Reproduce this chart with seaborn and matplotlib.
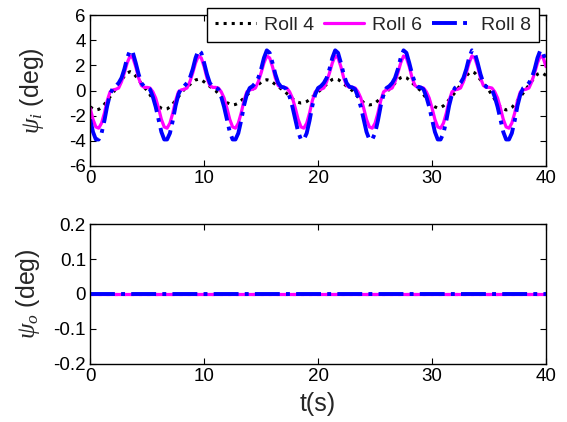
import numpy as np
import pandas as pd
import matplotlib
matplotlib.use("Agg")
import matplotlib.pyplot as plt
import seaborn as sns

# ---------------- data (0.25 s sampling) ----------------
t_start, t_end, t_step = 0.0, 40.0, 0.25

roll4 = [
    -1.3, -1.45, -1.55, -1.5, -1.35, -1.1, -0.8, -0.5, -0.2, 0.15, 0.45, 0.8,
    1.15, 1.4, 1.5, 1.4, 1.15, 0.85, 0.55, 0.25, 0.0, -0.34, -0.68, -0.97,
    -1.26, -1.41, -1.5, -1.46, -1.31, -1.07, -0.78, -0.49, -0.19, 0.09, 0.27, 0.48,
    0.69, 0.84, 0.9, 0.84, 0.69, 0.51, 0.33, 0.15, 0.0, -0.26, -0.52, -0.74,
    -0.96, -1.07, -1.15, -1.11, -1.0, -0.81, -0.59, -0.37, -0.15, 0.09, 0.26, 0.46,
    0.66, 0.8, 0.86, 0.8, 0.66, 0.48, 0.31, 0.14, 0.0, -0.23, -0.46, -0.65,
    -0.85, -0.94, -1.0, -0.98, -0.88, -0.72, -0.52, -0.33, -0.13, 0.09, 0.28, 0.5,
    0.72, 0.88, 0.95, 0.88, 0.72, 0.54, 0.35, 0.16, 0.0, -0.26, -0.52, -0.74,
    -0.96, -1.07, -1.15, -1.11, -1.0, -0.81, -0.59, -0.37, -0.15, 0.11, 0.33, 0.58,
    0.84, 1.02, 1.1, 1.02, 0.84, 0.62, 0.4, 0.18, 0.0, -0.32, -0.63, -0.9,
    -1.17, -1.3, -1.4, -1.35, -1.22, -0.99, -0.72, -0.45, -0.18, 0.15, 0.45, 0.8,
    1.15, 1.4, 1.5, 1.4, 1.15, 0.85, 0.55, 0.25, 0.0, -0.35, -0.7, -1.0,
    -1.3, -1.45, -1.55, -1.5, -1.35, -1.1, -0.8, -0.5, -0.2, 0.14, 0.42, 0.74,
    1.07, 1.3, 1.4, 1.35, 1.2,
]

roll6 = [
    -1.4, -2.3, -2.9, -3.0, -2.6, -1.8, -0.8, -0.1, 0.05, 0.1, 0.2, 0.7,
    1.4, 2.2, 2.75, 2.6, 1.9, 1.0, 0.4, 0.25, 0.25, 0.2, -0.1, -0.6,
    -1.4, -2.3, -2.9, -3.0, -2.6, -1.8, -0.8, -0.1, 0.05, 0.1, 0.2, 0.7,
    1.4, 2.2, 2.75, 2.6, 1.9, 1.0, 0.4, 0.25, 0.25, 0.2, -0.1, -0.6,
    -1.4, -2.3, -2.9, -3.0, -2.6, -1.8, -0.8, -0.1, 0.05, 0.1, 0.2, 0.7,
    1.4, 2.2, 2.75, 2.6, 1.9, 1.0, 0.4, 0.25, 0.25, 0.2, -0.1, -0.6,
    -1.4, -2.3, -2.9, -3.0, -2.6, -1.8, -0.8, -0.1, 0.05, 0.1, 0.2, 0.7,
    1.4, 2.2, 2.75, 2.6, 1.9, 1.0, 0.4, 0.25, 0.25, 0.2, -0.1, -0.6,
    -1.4, -2.3, -2.9, -3.0, -2.6, -1.8, -0.8, -0.1, 0.05, 0.1, 0.2, 0.7,
    1.4, 2.2, 2.75, 2.6, 1.9, 1.0, 0.4, 0.25, 0.25, 0.2, -0.1, -0.6,
    -1.4, -2.3, -2.9, -3.0, -2.6, -1.8, -0.8, -0.1, 0.05, 0.1, 0.2, 0.7,
    1.4, 2.2, 2.75, 2.6, 1.9, 1.0, 0.4, 0.25, 0.25, 0.2, -0.1, -0.6,
    -1.4, -2.3, -2.9, -3.0, -2.6, -1.8, -0.8, -0.1, 0.05, 0.1, 0.2, 0.7,
    1.4, 2.2, 2.75, 2.6, 1.9,
]

roll8 = [
    -2.3, -3.3, -3.9, -3.9, -3.4, -2.4, -1.2, -0.3, 0.2, 0.35, 0.6, 1.0,
    1.7, 2.6, 3.2, 3.0, 2.2, 1.3, 0.6, 0.3, 0.25, 0.1, -0.5, -1.3,
    -2.3, -3.3, -3.9, -3.9, -3.4, -2.4, -1.2, -0.3, 0.2, 0.35, 0.6, 1.0,
    1.7, 2.6, 3.2, 3.0, 2.2, 1.3, 0.6, 0.3, 0.25, 0.1, -0.5, -1.3,
    -2.3, -3.3, -3.9, -3.9, -3.4, -2.4, -1.2, -0.3, 0.2, 0.35, 0.6, 1.0,
    1.7, 2.6, 3.2, 3.0, 2.2, 1.3, 0.6, 0.3, 0.25, 0.1, -0.5, -1.3,
    -2.3, -3.3, -3.9, -3.9, -3.4, -2.4, -1.2, -0.3, 0.2, 0.35, 0.6, 1.0,
    1.7, 2.6, 3.2, 3.0, 2.2, 1.3, 0.6, 0.3, 0.25, 0.1, -0.5, -1.3,
    -2.3, -3.3, -3.9, -3.9, -3.4, -2.4, -1.2, -0.3, 0.2, 0.35, 0.6, 1.0,
    1.7, 2.6, 3.2, 3.0, 2.2, 1.3, 0.6, 0.3, 0.25, 0.1, -0.5, -1.3,
    -2.3, -3.3, -3.9, -3.9, -3.4, -2.4, -1.2, -0.3, 0.2, 0.35, 0.6, 1.0,
    1.7, 2.6, 3.2, 3.0, 2.2, 1.3, 0.6, 0.3, 0.25, 0.1, -0.5, -1.3,
    -2.3, -3.3, -3.9, -3.9, -3.4, -2.4, -1.2, -0.3, 0.2, 0.35, 0.6, 1.0,
    1.7, 2.6, 3.2, 3.0, 2.2,
]

# out-of-plane response: identically zero for all rolls
psi_o_level = [0.0, 0.0]
psi_o_t = [0.0, 40.0]

series_names = ["Roll 4", "Roll 6", "Roll 8"]
series_colors = ["black", "#FF00FF", "#0000FF"]
series_styles = [":", "-", "-."]
series_widths = [2.2, 2.3, 2.8]

x_ticks = [0, 10, 20, 30, 40]
y1_ticks = [-6, -4, -2, 0, 2, 4, 6]
y2_ticks = [-0.2, -0.1, 0, 0.1, 0.2]
y2_ticklabels = ["-0.2", "-0.1", "0", "0.1", "0.2"]

# ---------------- build tables ----------------
t = np.linspace(t_start, t_end, len(roll4))
df_top = pd.concat([
    pd.DataFrame({"t": t, "psi": vals, "series": name})
    for name, vals in zip(series_names, [roll4, roll6, roll8])
])
df_bot = pd.concat([
    pd.DataFrame({"t": psi_o_t, "psi": psi_o_level, "series": name})
    for name in series_names
])

# ---------------- style ----------------
sns.set_theme(style="ticks")
plt.rcParams["font.family"] = ["Liberation Sans", "DejaVu Sans"]
plt.rcParams["mathtext.fontset"] = "custom"
plt.rcParams["mathtext.it"] = "Liberation Serif:italic"
plt.rcParams["mathtext.rm"] = "Liberation Sans"
plt.rcParams["axes.unicode_minus"] = False

fig = plt.figure(figsize=(5.67, 4.22), dpi=100)
ax1 = fig.add_axes([0.159, 0.607, 0.804, 0.357])
ax2 = fig.add_axes([0.159, 0.138, 0.804, 0.331])

for ax, df in [(ax1, df_top), (ax2, df_bot)]:
    for name, c, ls, lw in zip(series_names, series_colors, series_styles, series_widths):
        sub = df[df["series"] == name]
        sns.lineplot(data=sub, x="t", y="psi", ax=ax, color=c, linestyle=ls,
                     linewidth=lw, label=name, legend=False, estimator=None,
                     sort=False)
    ax.set_xlim(0, 40)
    ax.set_xticks(x_ticks)
    ax.set_xticklabels([str(v) for v in x_ticks])
    ax.tick_params(direction="in", length=4, width=0.8, top=True, right=True,
                   labelsize=13.5, pad=3, colors="black")
    for s in ax.spines.values():
        s.set_linewidth(1.0)
        s.set_color("black")
    ax.set_xlabel("")

ax1.set_ylim(-6, 6)
ax1.set_yticks(y1_ticks)
ax1.set_yticklabels([str(v) for v in y1_ticks])
ax1.set_ylabel(r"$\psi_i$ (deg)", fontsize=18)

ax2.set_ylim(-0.2, 0.2)
ax2.set_yticks(y2_ticks)
ax2.set_yticklabels(y2_ticklabels)
ax2.set_ylabel(r"$\psi_o$ (deg)", fontsize=18)
ax2.set_xlabel("t(s)", fontsize=18)

ax1.yaxis.set_label_coords(-0.097, 0.5)
ax2.yaxis.set_label_coords(-0.105, 0.5)
ax2.xaxis.set_label_coords(0.5, -0.205)

handles, labels = ax1.get_legend_handles_labels()
leg = fig.legend(handles, labels, loc="upper left", ncol=3,
                 bbox_to_anchor=(207 / 567, 1 - 8 / 422), fontsize=14,
                 frameon=True, fancybox=False, edgecolor="black",
                 framealpha=1, handlelength=2.1, handletextpad=0.4,
                 columnspacing=0.5, borderpad=0.42, borderaxespad=0)
leg.get_frame().set_linewidth(1.0)

fig.savefig("out.png", dpi=100)
